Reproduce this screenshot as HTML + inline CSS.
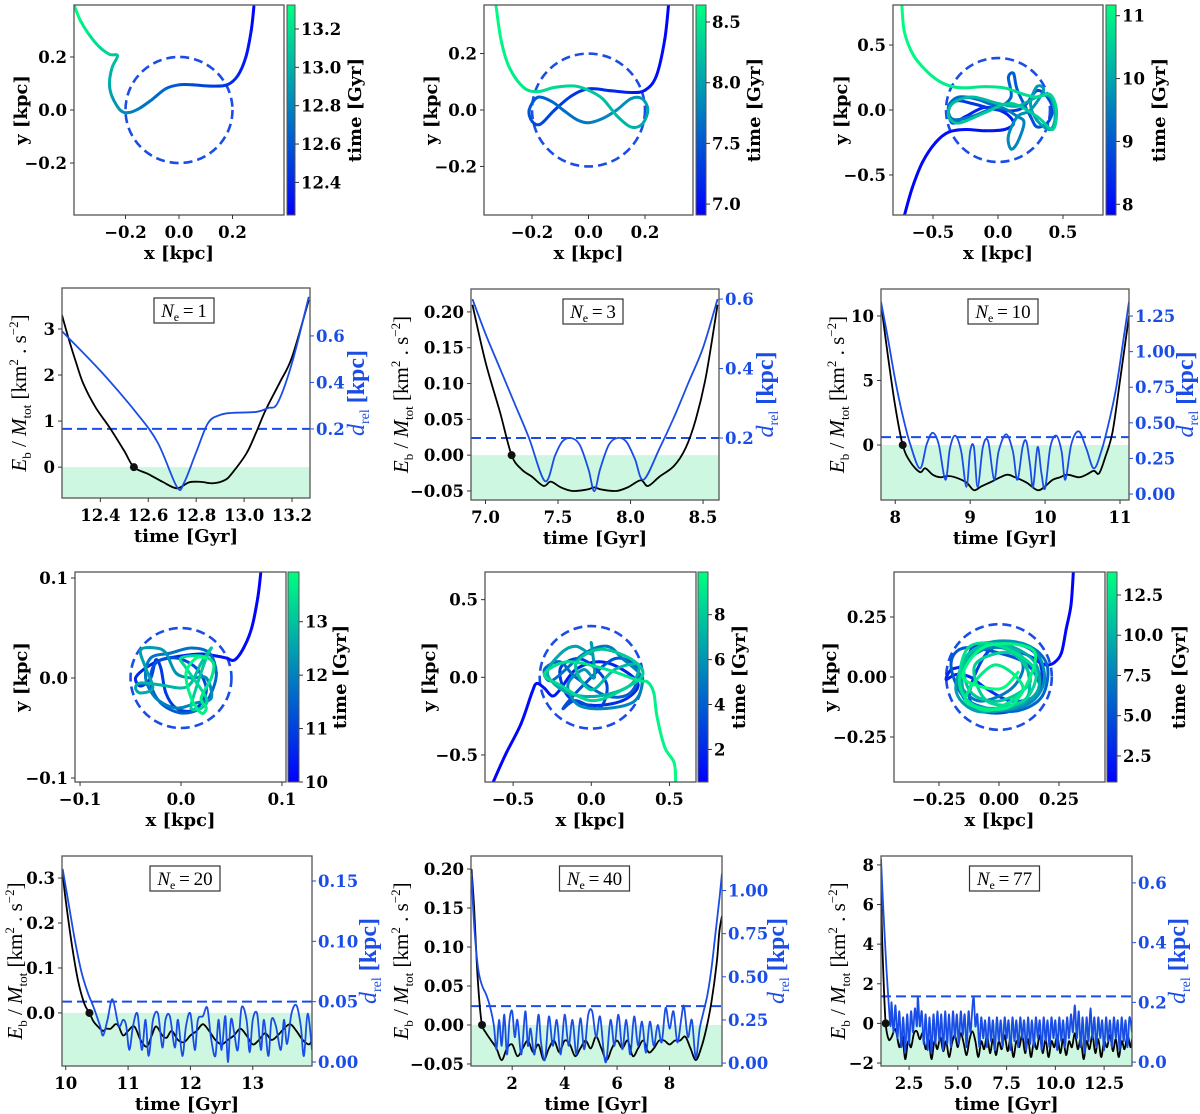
<!DOCTYPE html>
<html><head><meta charset="utf-8">
<style>
html,body{margin:0;padding:0;background:#fff;}
svg{display:block;font-family:"Liberation Serif",serif;}
.tk{font-weight:bold;font-size:16.5px;font-family:"DejaVu Serif","Liberation Serif",serif;}
.ttl{font-weight:bold;font-size:18px;font-family:"DejaVu Serif","Liberation Serif",serif;}
</style></head>
<body>
<svg id="fig" width="1200" height="1114" viewBox="0 0 1200 1114">
<defs>
<linearGradient id="winter" x1="0" y1="1" x2="0" y2="0">
<stop offset="0" stop-color="rgb(0,0,255)"/><stop offset="1" stop-color="rgb(0,255,128)"/>
</linearGradient>
</defs>
</svg>
<script>
// ---------------- DATA ----------------
const orbit1 = [[0.28,0.39],[0.27,0.3],[0.25,0.2],[0.22,0.13],[0.18,0.095],[0.12,0.09],[0.05,0.095],[0.0,0.095],[-0.05,0.08],[-0.1,0.04],[-0.15,0.005],[-0.19,-0.01],[-0.22,0.0],[-0.25,0.05],[-0.26,0.1],[-0.25,0.16],[-0.23,0.205],[-0.26,0.21],[-0.3,0.24],[-0.34,0.29],[-0.37,0.34],[-0.39,0.39]];
const orbit2 = [[0.285,0.39],[0.27,0.25],[0.24,0.12],[0.2,0.07],[0.15,0.062],[0.08,0.068],[0.0,0.075],[-0.06,0.05],[-0.12,0.0],[-0.17,-0.05],[-0.2,-0.04],[-0.21,0.0],[-0.18,0.045],[-0.13,0.03],[-0.09,0.0],[-0.04,-0.035],[0.0,-0.045],[0.05,-0.03],[0.1,0.0],[0.15,0.04],[0.19,0.04],[0.21,0.0],[0.19,-0.05],[0.15,-0.06],[0.1,-0.02],[0.05,0.04],[0.0,0.07],[-0.05,0.085],[-0.12,0.08],[-0.18,0.065],[-0.23,0.08],[-0.28,0.15],[-0.31,0.25],[-0.33,0.39]];
const orbit3 = [[-0.72,-0.81],[-0.66,-0.6],[-0.58,-0.4],[-0.48,-0.25],[-0.38,-0.17],[-0.25,-0.15],[-0.1,-0.16],[0.05,-0.15],[0.12,-0.1],[0.05,-0.02],[-0.1,0.02],[-0.25,-0.05],[-0.35,-0.1],[-0.38,0.0],[-0.32,0.07],[-0.2,0.05],[0.0,0.0],[0.15,0.0],[0.22,0.05],[0.3,0.15],[0.38,0.1],[0.42,0.0],[0.38,-0.1],[0.3,-0.13],[0.25,-0.05],[0.15,0.15],[0.12,0.28],[0.08,0.25],[0.1,0.1],[0.0,0.03],[-0.15,0.08],[-0.3,0.1],[-0.38,0.03],[-0.35,-0.07],[-0.2,-0.05],[0.0,0.02],[0.15,-0.05],[0.2,-0.1],[0.15,-0.25],[0.1,-0.3],[0.08,-0.2],[0.15,-0.05],[0.25,0.0],[0.35,0.15],[0.3,0.18],[0.25,0.05],[0.3,-0.08],[0.4,-0.15],[0.44,-0.05],[0.4,0.1],[0.3,0.1],[0.15,0.03],[0.0,0.05],[-0.2,0.1],[-0.35,0.05],[-0.38,-0.05],[-0.3,-0.1],[-0.1,-0.02],[0.1,0.05],[0.3,-0.05],[0.42,-0.15],[0.45,0.0],[0.4,0.12],[0.3,0.1],[0.2,0.12],[0.05,0.17],[-0.1,0.18],[-0.25,0.17],[-0.35,0.18],[-0.45,0.22],[-0.55,0.3],[-0.65,0.42],[-0.72,0.6],[-0.74,0.81]];
const orbit4 = [[0.079,0.105],[0.076,0.08],[0.07,0.05],[0.062,0.03],[0.053,0.018],[0.045,0.02],[0.035,0.022],[0.02,0.024],[0.0,0.022],[-0.02,0.018],[-0.035,0.01],[-0.045,0.0],[-0.04,-0.008],[-0.03,0.0],[-0.025,0.018],[-0.02,0.01],[-0.015,-0.015],[-0.005,-0.03],[0.01,-0.033],[0.02,-0.025],[0.025,-0.01],[0.015,0.01],[-0.005,0.02],[-0.025,0.015],[-0.03,-0.005],[-0.02,-0.025],[0.0,-0.035],[0.02,-0.03],[0.03,-0.015],[0.035,0.005],[0.028,0.025],[0.01,0.03],[-0.01,0.025],[-0.03,0.02],[-0.035,0.0],[-0.025,-0.02],[-0.005,-0.03],[0.015,-0.025],[0.03,-0.02],[0.025,0.0],[0.01,0.0],[-0.005,0.005],[-0.015,0.025],[-0.025,0.03],[-0.04,0.028],[-0.035,0.01],[-0.028,-0.01],[-0.04,-0.015],[-0.045,-0.01],[-0.04,-0.005],[-0.02,-0.007],[0.0,-0.01],[0.01,-0.005],[0.02,0.015],[0.03,0.03],[0.025,0.02],[0.015,-0.01],[0.01,-0.03],[0.02,-0.03],[0.025,-0.02],[0.005,0.01],[0.0,0.02],[0.02,0.022],[0.032,0.015],[0.03,0.0],[0.02,-0.02],[0.025,-0.03],[0.02,-0.035],[0.01,-0.02],[0.005,0.005],[0.015,0.02],[0.025,0.02]];
const orbit5 = [[-0.63,-0.68],[-0.55,-0.5],[-0.45,-0.3],[-0.38,-0.1],[-0.35,-0.04],[-0.3,-0.07],[-0.25,-0.12],[-0.2,-0.08],[-0.1,0.05],[0.05,0.1],[0.2,0.05],[0.3,-0.05],[0.2,-0.15],[0.0,-0.18],[-0.15,-0.12],[-0.2,0.05],[-0.1,0.12],[0.0,0.08],[0.1,-0.05],[0.05,-0.2],[-0.1,-0.15],[-0.18,-0.2],[-0.05,-0.05],[0.15,0.12],[0.3,0.05],[0.25,-0.1],[0.1,-0.12],[-0.1,0.0],[-0.2,0.1],[-0.3,0.05],[-0.25,-0.02],[-0.05,0.15],[0.1,0.2],[0.2,0.12],[0.32,0.0],[0.28,-0.15],[0.1,-0.2],[-0.08,-0.18],[-0.15,-0.05],[-0.05,0.05],[0.02,0.0],[0.0,0.22],[0.0,0.15],[-0.1,0.2],[-0.2,0.15],[-0.28,0.02],[-0.15,-0.1],[0.05,-0.12],[0.25,-0.05],[0.3,0.08],[0.15,0.05],[0.0,-0.08],[-0.1,0.08],[0.05,0.18],[0.25,0.12],[0.33,0.02],[0.2,-0.08],[0.0,-0.15],[-0.2,-0.05],[-0.3,0.02],[-0.15,0.1],[0.1,0.05],[0.3,-0.02],[0.36,-0.03],[0.4,-0.1],[0.42,-0.25],[0.47,-0.45],[0.53,-0.55],[0.54,-0.68]];
const orbit6 = [[0.31,0.44],[0.3,0.3],[0.28,0.2],[0.26,0.1],[0.23,0.06],[0.2,0.05],[0.17,0.06],[0.14,0.08],[0.1,0.1],[0.0,0.14],[-0.1,0.13],[-0.15,0.05],[-0.2,0.03],[-0.22,-0.01],[-0.18,0.01],[-0.12,0.0],[-0.05,-0.05],[0.05,-0.1],[0.15,-0.08],[0.18,0.0],[0.15,0.1],[0.05,0.14],[-0.05,0.1],[-0.12,-0.05],[-0.1,-0.13],[0.0,-0.15],[0.1,-0.12],[0.17,-0.05],[0.12,0.05],[0.0,0.1],[-0.15,0.12],[-0.2,0.05],[-0.15,-0.08],[-0.05,-0.13],[0.08,-0.14],[0.18,-0.08],[0.2,0.05],[0.12,0.13],[-0.02,0.13],[-0.13,0.07],[-0.16,-0.03],[-0.08,-0.1],[0.05,-0.05],[0.1,0.05],[0.02,0.12],[-0.1,0.1],[-0.17,0.0],[-0.12,-0.12],[0.02,-0.14],[0.14,-0.1],[0.19,0.0],[0.14,0.12],[0.0,0.15],[-0.12,0.1],[-0.18,-0.05],[-0.1,-0.14],[0.05,-0.13],[0.16,-0.06],[0.15,0.06],[0.04,0.13],[-0.08,0.12],[-0.15,0.03],[-0.13,-0.1],[0.0,-0.13],[0.12,-0.08],[0.1,0.08],[-0.02,0.14],[-0.14,0.08],[-0.12,-0.06],[0.0,-0.1],[0.13,-0.02],[0.05,0.1],[-0.1,0.05],[-0.05,-0.1],[0.1,-0.1],[0.15,0.03],[0.0,0.13],[-0.13,0.12],[-0.16,-0.05],[-0.05,-0.14],[0.1,-0.05],[-0.02,0.05],[-0.14,-0.1],[0.05,-0.12],[0.15,0.1],[-0.05,0.13],[-0.15,0.0],[0.0,-0.05],[0.08,0.02]];

const energy1 = [[12.24,3.3],[12.27,2.75],[12.3,2.25],[12.33,1.8],[12.38,1.3],[12.44,0.85],[12.5,0.35],[12.54,0.0],[12.6,-0.15],[12.66,-0.32],[12.72,-0.46],[12.77,-0.33],[12.82,-0.32],[12.87,-0.35],[12.92,-0.28],[12.95,-0.13],[13.01,0.3],[13.05,0.75],[13.09,1.24],[13.15,1.85],[13.2,2.39],[13.27,3.63]];
const dist1 = [[12.24,0.62],[12.4,0.45],[12.55,0.27],[12.64,0.14],[12.72,-0.05],[12.75,-0.03],[12.8,0.1],[12.85,0.226],[12.9,0.26],[12.95,0.269],[13.05,0.273],[13.1,0.29],[13.14,0.312],[13.2,0.484],[13.27,0.768]];
const energy2 = [[6.91,0.21],[7.0,0.13],[7.1,0.06],[7.18,0.0],[7.25,-0.02],[7.32,-0.03],[7.4,-0.043],[7.45,-0.037],[7.52,-0.045],[7.6,-0.05],[7.7,-0.048],[7.75,-0.045],[7.8,-0.048],[7.9,-0.05],[7.98,-0.045],[8.07,-0.035],[8.12,-0.043],[8.2,-0.03],[8.3,-0.015],[8.38,0.01],[8.45,0.05],[8.52,0.11],[8.6,0.21]];
const dist2 = [[6.91,0.6],[7.0,0.5],[7.1,0.4],[7.2,0.3],[7.3,0.2],[7.41,0.076],[7.48,0.15],[7.53,0.19],[7.59,0.2],[7.65,0.18],[7.71,0.11],[7.75,0.047],[7.79,0.11],[7.85,0.18],[7.91,0.2],[7.97,0.19],[8.03,0.14],[8.09,0.08],[8.2,0.17],[8.3,0.26],[8.4,0.36],[8.5,0.46],[8.6,0.6]];
const energy3 = [[7.81,11],[7.9,7],[8.0,3],[8.1,0],[8.2,-1.3],[8.33,-2.1],[8.4,-1.8],[8.5,-2.3],[8.6,-2.5],[8.7,-2.4],[8.8,-2.5],[8.95,-2.9],[9.05,-3.5],[9.15,-3.2],[9.3,-2.8],[9.4,-2.5],[9.5,-2.3],[9.6,-2.5],[9.75,-2.9],[9.9,-3.5],[10.0,-3.2],[10.1,-2.7],[10.2,-2.5],[10.3,-2.3],[10.45,-2.5],[10.55,-2.3],[10.65,-2.0],[10.72,-2.2],[10.8,-1.0],[10.9,1],[11.0,5],[11.12,10]];
const dist3 = [[7.81,1.35],[7.9,1.1],[8.0,0.8],[8.1,0.55],[8.2,0.35],[8.33,0.18],[8.42,0.35],[8.5,0.43],[8.58,0.35],[8.67,0.1],[8.73,0.32],[8.8,0.41],[8.88,0.3],[8.95,0.05],[9.0,0.3],[9.05,0.33],[9.1,0.05],[9.17,0.33],[9.24,0.37],[9.32,0.1],[9.38,0.3],[9.48,0.42],[9.57,0.3],[9.63,0.1],[9.7,0.33],[9.75,0.37],[9.8,0.2],[9.84,0.05],[9.9,0.33],[9.95,0.15],[10.0,0.04],[10.07,0.33],[10.15,0.41],[10.22,0.3],[10.27,0.1],[10.35,0.35],[10.45,0.44],[10.55,0.32],[10.65,0.18],[10.75,0.3],[10.85,0.5],[10.95,0.75],[11.05,1.1],[11.12,1.35]];
const energy4 = [[9.95,0.31],[10.0,0.25],[10.1,0.15],[10.2,0.07],[10.3,0.02],[10.38,0.0],[10.45,-0.02],[10.55,-0.035],[10.6,-0.04],[10.65,-0.035],[10.72,-0.035],[10.8,-0.025],[10.85,-0.03],[10.92,-0.05],[11.0,-0.04],[11.1,-0.03],[11.2,-0.06],[11.3,-0.075],[11.38,-0.05],[11.45,-0.03],[11.55,-0.05],[11.62,-0.055],[11.7,-0.04],[11.8,-0.06],[11.9,-0.065],[12.0,-0.05],[12.1,-0.04],[12.2,-0.025],[12.3,-0.04],[12.4,-0.06],[12.5,-0.07],[12.6,-0.06],[12.7,-0.05],[12.8,-0.035],[12.9,-0.05],[13.0,-0.07],[13.1,-0.06],[13.2,-0.045],[13.3,-0.06],[13.4,-0.05],[13.5,-0.035],[13.6,-0.025],[13.7,-0.04],[13.8,-0.06],[13.9,-0.07],[13.95,-0.06]];
const dist4 = [[9.95,0.16],[10.05,0.13],[10.15,0.1],[10.25,0.075],[10.35,0.058],[10.45,0.045],[10.55,0.03],[10.6,0.022],[10.67,0.035],[10.75,0.052],[10.85,0.03],[10.92,0.035],[10.97,0.03],[11.02,0.01],[11.08,0.03],[11.15,0.04],[11.22,0.01],[11.28,0.035],[11.33,0.005],[11.4,0.035],[11.48,0.04],[11.55,0.012],[11.6,0.035],[11.67,0.038],[11.75,0.012],[11.8,0.035],[11.87,0.005],[11.93,0.03],[12.0,0.04],[12.07,0.01],[12.12,0.035],[12.2,0.038],[12.27,0.045],[12.33,0.02],[12.4,0.005],[12.45,0.035],[12.5,0.01],[12.56,0.038],[12.6,0.0],[12.65,0.035],[12.7,0.025],[12.76,0.01],[12.82,0.045],[12.9,0.035],[12.95,0.008],[13.0,0.035],[13.07,0.04],[13.13,0.01],[13.18,0.035],[13.25,0.005],[13.3,0.035],[13.37,0.03],[13.45,0.01],[13.5,0.035],[13.55,0.015],[13.62,0.04],[13.7,0.047],[13.77,0.03],[13.82,0.005],[13.88,0.04],[13.95,0.01]];
const energy5 = [[0.45,0.2],[0.55,0.15],[0.65,0.08],[0.75,0.03],[0.85,0.0],[1.0,-0.01],[1.2,-0.02],[1.4,-0.03],[1.6,-0.045],[1.8,-0.03],[2.0,-0.025],[2.2,-0.04],[2.4,-0.03],[2.6,-0.02],[2.8,-0.035],[3.0,-0.025],[3.2,-0.045],[3.4,-0.03],[3.6,-0.02],[3.8,-0.035],[4.0,-0.02],[4.2,-0.025],[4.4,-0.04],[4.6,-0.03],[4.8,-0.02],[5.0,-0.03],[5.2,-0.015],[5.4,-0.03],[5.6,-0.045],[5.8,-0.03],[6.0,-0.02],[6.2,-0.03],[6.4,-0.02],[6.6,-0.04],[6.8,-0.03],[7.0,-0.02],[7.2,-0.035],[7.4,-0.03],[7.6,-0.02],[7.8,-0.02],[8.0,-0.025],[8.2,-0.02],[8.4,-0.02],[8.6,-0.015],[8.8,-0.03],[9.0,-0.045],[9.2,-0.03],[9.4,-0.005],[9.6,0.03],[9.8,0.08],[9.9,0.12],[10.0,0.14]];
const dist5 = [[0.45,1.1],[0.55,0.8],[0.7,0.55],[0.85,0.45],[1.0,0.4],[1.15,0.33],[1.3,0.22],[1.4,0.08],[1.5,0.25],[1.6,0.1],[1.7,0.28],[1.8,0.05],[1.9,0.25],[2.0,0.3],[2.1,0.15],[2.2,0.25],[2.35,0.05],[2.5,0.3],[2.6,0.1],[2.7,0.2],[2.85,0.05],[3.0,0.28],[3.1,0.12],[3.25,0.02],[3.4,0.27],[3.55,0.1],[3.7,0.25],[3.85,0.05],[4.0,0.28],[4.15,0.1],[4.3,0.25],[4.45,0.05],[4.6,0.26],[4.75,0.08],[4.9,0.28],[5.05,0.3],[5.2,0.15],[5.35,0.27],[5.5,0.05],[5.6,0.02],[5.75,0.25],[5.9,0.1],[6.05,0.28],[6.2,0.08],[6.35,0.25],[6.5,0.05],[6.65,0.27],[6.8,0.1],[6.95,0.24],[7.1,0.06],[7.25,0.24],[7.4,0.1],[7.55,0.22],[7.7,0.12],[7.85,0.32],[8.0,0.2],[8.15,0.3],[8.3,0.12],[8.45,0.26],[8.55,0.33],[8.7,0.15],[8.85,0.25],[9.0,0.03],[9.15,0.2],[9.3,0.3],[9.45,0.4],[9.6,0.55],[9.75,0.75],[9.9,0.95],[10.0,1.1]];
const energy6 = [[1.06,8],[1.1,5],[1.2,2],[1.3,0],[1.45,-0.8],[1.6,-0.7],[1.8,-0.3],[2.0,-1.2],[2.15,-0.6],[2.3,-1.8],[2.45,-0.9],[2.6,-1.2],[2.75,-0.5],[2.9,-0.4],[3.05,-0.8],[3.2,-0.5],[3.35,-1.3],[3.5,-0.8],[3.65,-1.8],[3.8,-0.9],[3.95,-1.3],[4.1,-0.7],[4.25,-1.4],[4.4,-0.9],[4.55,-1.7],[4.7,-1.0],[4.85,-0.6],[5.0,-1.2],[5.15,-0.5],[5.3,-1.0],[5.45,-1.6],[5.6,-0.8],[5.75,-0.4],[5.9,-0.9],[6.05,-1.7],[6.2,-0.9],[6.35,-1.3],[6.5,-0.6],[6.65,-1.5],[6.8,-0.8],[6.95,-1.6],[7.1,-0.9],[7.25,-1.3],[7.4,-0.6],[7.55,-1.4],[7.7,-0.8],[7.85,-1.7],[8.0,-0.9],[8.15,-1.2],[8.3,-0.6],[8.45,-1.5],[8.6,-0.8],[8.75,-1.7],[8.9,-0.9],[9.05,-1.3],[9.2,-0.6],[9.35,-1.5],[9.5,-0.8],[9.65,-1.7],[9.8,-0.9],[9.95,-1.2],[10.1,-0.6],[10.25,-1.5],[10.4,-0.8],[10.55,-1.6],[10.7,-0.9],[10.85,-1.2],[11.0,-0.5],[11.15,-1.3],[11.3,-0.8],[11.45,-1.8],[11.6,-0.9],[11.75,-1.3],[11.9,-0.6],[12.05,-1.5],[12.2,-0.8],[12.35,-1.7],[12.5,-0.9],[12.65,-1.2],[12.8,-0.6],[12.95,-1.4],[13.1,-0.8],[13.25,-1.7],[13.4,-0.9],[13.55,-1.3],[13.7,-0.6],[13.85,-1.2],[13.93,-0.8]];
const dist6 = [[1.06,0.68],[1.15,0.55],[1.25,0.42],[1.35,0.3],[1.45,0.2],[1.55,0.12],[1.6,0.2],[1.7,0.1],[1.8,0.19],[1.9,0.08],[2.0,0.17],[2.1,0.05],[2.2,0.15],[2.3,0.03],[2.4,0.16],[2.5,0.06],[2.6,0.17],[2.7,0.1],[2.8,0.18],[2.9,0.12],[2.95,0.22],[3.05,0.12],[3.15,0.17],[3.25,0.06],[3.35,0.16],[3.45,0.04],[3.55,0.15],[3.65,0.03],[3.75,0.16],[3.85,0.06],[3.95,0.17],[4.05,0.07],[4.15,0.16],[4.25,0.04],[4.35,0.17],[4.45,0.06],[4.55,0.16],[4.65,0.05],[4.75,0.17],[4.85,0.08],[4.95,0.16],[5.05,0.06],[5.15,0.17],[5.25,0.09],[5.35,0.16],[5.45,0.05],[5.55,0.17],[5.65,0.1],[5.8,0.22],[5.9,0.12],[6.0,0.16],[6.1,0.05],[6.2,0.15],[6.3,0.08],[6.4,0.14],[6.5,0.05],[6.6,0.15],[6.7,0.07],[6.8,0.14],[6.9,0.04],[7.0,0.15],[7.1,0.07],[7.2,0.14],[7.3,0.05],[7.4,0.15],[7.5,0.08],[7.6,0.14],[7.7,0.04],[7.8,0.15],[7.9,0.07],[8.0,0.14],[8.1,0.05],[8.2,0.15],[8.3,0.08],[8.4,0.14],[8.5,0.04],[8.6,0.15],[8.7,0.06],[8.8,0.14],[8.9,0.05],[9.0,0.15],[9.1,0.08],[9.2,0.14],[9.3,0.04],[9.4,0.15],[9.5,0.07],[9.6,0.14],[9.7,0.05],[9.8,0.15],[9.9,0.08],[10.0,0.14],[10.1,0.04],[10.2,0.15],[10.3,0.07],[10.4,0.14],[10.5,0.05],[10.6,0.15],[10.7,0.08],[10.8,0.16],[10.9,0.1],[11.0,0.19],[11.1,0.08],[11.2,0.17],[11.3,0.05],[11.4,0.15],[11.5,0.03],[11.6,0.15],[11.7,0.07],[11.8,0.18],[11.9,0.08],[12.0,0.15],[12.1,0.05],[12.2,0.15],[12.3,0.08],[12.4,0.14],[12.5,0.04],[12.6,0.15],[12.7,0.07],[12.8,0.14],[12.9,0.05],[13.0,0.15],[13.1,0.08],[13.2,0.14],[13.3,0.04],[13.4,0.15],[13.5,0.07],[13.6,0.14],[13.7,0.05],[13.8,0.15],[13.93,0.1]];

const markerTimes = [12.54, 7.18, 8.1, 10.38, 0.85, 1.3];
const circleRadii = [0.2, 0.2, 0.4, 0.05, 0.33, 0.22];
const neLabels = ['1','3','10','20','40','77'];

const orbitTicks = [[-0.2,0,0.2],[-0.2,0,0.2],[-0.5,0,0.5],[-0.1,0,0.1],[-0.5,0,0.5],[-0.25,0,0.25]];
const cbarTicks = [[12.4,12.6,12.8,13.0,13.2],[7.0,7.5,8.0,8.5],[8,9,10,11],[10,11,12,13],[2,4,6,8],[2.5,5.0,7.5,10.0,12.5]];
const timeTicks = [[12.4,12.6,12.8,13.0,13.2],[7.0,7.5,8.0,8.5],[8,9,10,11],[10,11,12,13],[2,4,6,8],[2.5,5.0,7.5,10.0,12.5]];
const energyTicks = [[0,1,2,3],[-0.05,0,0.05,0.1,0.15,0.2],[0,5,10],[0,0.1,0.2,0.3],[-0.05,0,0.05,0.1,0.15,0.2],[-2,0,2,4,6,8]];
const distTicks = [[0.2,0.4,0.6],[0.2,0.4,0.6],[0,0.25,0.5,0.75,1.0,1.25],[0,0.05,0.1,0.15],[0,0.25,0.5,0.75,1.0],[0,0.2,0.4,0.6]];

// ---------------- LAYOUT ----------------
const orbitCfg = [
 {bx:[74,284],by:[5,215],xd:[-0.3925,0.3925],yd:[-0.396,0.396],cb:[287,295],cd:[12.23,13.325],dec:1,cdec:1,yl:15,cl:353},
 {bx:[484,693],by:[5,215],xd:[-0.37,0.37],yd:[-0.372,0.372],cb:[696,706],cd:[6.91,8.64],dec:1,cdec:1,yl:425,cl:752},
 {bx:[893,1103],by:[5,215],xd:[-0.808,0.808],yd:[-0.808,0.808],cb:[1106,1116],cd:[7.83,11.17],dec:1,cdec:0,yl:835,cl:1157},
 {bx:[75,286],by:[572,782],xd:[-0.105,0.104],yd:[-0.104,0.106],cb:[288,299],cd:[10,13.93],dec:1,cdec:0,yl:15,cl:338},
 {bx:[485,696],by:[572,782],xd:[-0.68,0.67],yd:[-0.674,0.678],cb:[698,708],cd:[0.55,9.9],dec:1,cdec:0,yl:423,cl:737},
 {bx:[894,1105],by:[572,782],xd:[-0.4375,0.4417],yd:[-0.4375,0.4375],cb:[1107,1117],cd:[0.88,13.93],dec:2,cdec:1,yl:824,cl:1177}
];
const energyCfg = [
 {bx:[62,310],by:[288,498],td:[12.24,13.275],ed:[-0.67,3.89],dd:[-0.097,0.806],tdec:1,edec:0,ddec:1,yl:18,rl:356},
 {bx:[471,719],by:[289,500],td:[6.90,8.61],ed:[-0.0626,0.232],dd:[0.0216,0.629],tdec:1,edec:2,ddec:1,yl:400,rl:765},
 {bx:[881,1129],by:[289,500],td:[7.81,11.12],ed:[-4.26,12.09],dd:[-0.042,1.44],tdec:0,edec:0,ddec:2,yl:836,rl:1185},
 {bx:[62,312],by:[856,1066],td:[9.94,13.95],ed:[-0.118,0.349],dd:[-0.0033,0.1707],tdec:0,edec:1,ddec:2,yl:14,rl:368},
 {bx:[471,722],by:[856,1066],td:[0.43,10.0],ed:[-0.0526,0.2167],dd:[-0.017,1.2],tdec:0,edec:2,ddec:2,yl:400,rl:776},
 {bx:[881,1132],by:[856,1066],td:[1.06,13.93],ed:[-2.15,8.45],dd:[-0.013,0.69],tdec:1,edec:0,ddec:1,yl:837,rl:1177}
];
const orbits=[orbit1,orbit2,orbit3,orbit4,orbit5,orbit6];
const energies=[energy1,energy2,energy3,energy4,energy5,energy6];
const dists=[dist1,dist2,dist3,dist4,dist5,dist6];

// ---------------- RENDER ----------------
const svg=document.getElementById('fig');
const NS=svg.namespaceURI;
const BLUE='#1a4de6';
function el(tag,parent){const e=document.createElementNS(NS,tag);parent.appendChild(e);return e;}
function set(e,a){for(const k in a)e.setAttribute(k,a[k]);}
function lin(d0,d1,r0,r1){return v=>r0+(v-d0)/(d1-d0)*(r1-r0);}
function fmt(v,d){const s=Math.abs(v).toFixed(d);return (v<0?'\u2212':'')+s;}
function winter(f){return 'rgb(0,'+Math.round(255*f)+','+Math.round(255-127*f)+')';}
function crPath(pts){
  if(pts.length<2)return '';
  let d='M'+pts[0][0].toFixed(2)+','+pts[0][1].toFixed(2);
  for(let i=0;i<pts.length-1;i++){
    const p0=pts[Math.max(0,i-1)],p1=pts[i],p2=pts[i+1],p3=pts[Math.min(pts.length-1,i+2)];
    const c1=[p1[0]+(p2[0]-p0[0])/6,p1[1]+(p2[1]-p0[1])/6];
    const c2=[p2[0]-(p3[0]-p1[0])/6,p2[1]-(p3[1]-p1[1])/6];
    d+='C'+c1[0].toFixed(2)+','+c1[1].toFixed(2)+' '+c2[0].toFixed(2)+','+c2[1].toFixed(2)+' '+p2[0].toFixed(2)+','+p2[1].toFixed(2);
  }
  return d;
}
function text(parent,x,y,str,cls,anchor,fill){
  const t=el('text',parent);set(t,{x:x,y:y,'text-anchor':anchor||'middle',fill:fill||'#000'});
  if(cls)t.setAttribute('class',cls);
  t.textContent=str;return t;
}
function clip(id,bx,by){
  const defs=svg.querySelector('defs');const cp=el('clipPath',defs);cp.setAttribute('id',id);
  const r=el('rect',cp);set(r,{x:bx[0],y:by[0],width:bx[1]-bx[0],height:by[1]-by[0]});
}

orbitCfg.forEach((c,k)=>{
  const g=el('g',svg);
  
  
  const X=lin(c.xd[0],c.xd[1],c.bx[0],c.bx[1]);
  const Y=lin(c.yd[0],c.yd[1],c.by[1],c.by[0]);
  clip('oc'+k,c.bx,c.by);
  const plot=el('g',g);plot.setAttribute('clip-path','url(#oc'+k+')');
  
  
  const r=circleRadii[k];
  const circ=el('ellipse',plot);
  set(circ,{cx:X(0),cy:Y(0),rx:X(r)-X(0),ry:Y(0)-Y(r),fill:'none',stroke:BLUE,'stroke-width':2.6,'stroke-dasharray':'9,5'});
  
  
  const o=orbits[k];const px=o.map(p=>[X(p[0]),Y(p[1])]);
  const n=px.length;
  for(let i=0;i<n-1;i++){
    const p0=px[Math.max(0,i-1)],p1=px[i],p2=px[i+1],p3=px[Math.min(n-1,i+2)];
    const c1=[p1[0]+(p2[0]-p0[0])/6,p1[1]+(p2[1]-p0[1])/6];
    const c2=[p2[0]-(p3[0]-p1[0])/6,p2[1]-(p3[1]-p1[1])/6];
    const seg=el('path',plot);
    set(seg,{d:'M'+p1[0]+','+p1[1]+'C'+c1[0]+','+c1[1]+' '+c2[0]+','+c2[1]+' '+p2[0]+','+p2[1],fill:'none',stroke:winter((i+0.5)/(n-1)),'stroke-width':3,'stroke-linecap':'round'});
    
    
  }
  const fr=el('rect',g);
  set(fr,{x:c.bx[0],y:c.by[0],width:c.bx[1]-c.bx[0],height:c.by[1]-c.by[0],fill:'none',stroke:'#555','stroke-width':1.3});
  
  
  orbitTicks[k].forEach(v=>{
    const tx=el('line',g);set(tx,{x1:X(v),x2:X(v),y1:c.by[1],y2:c.by[1]+4,stroke:'#333'});
    
    
    const lx=text(g,X(v),c.by[1]+23,fmt(v,c.dec),'tk');
    
    
    const ty=el('line',g);set(ty,{x1:c.bx[0]-4,x2:c.bx[0],y1:Y(v),y2:Y(v),stroke:'#333'});
    
    
    const ly=text(g,c.bx[0]-7,Y(v)+6,fmt(v,c.dec),'tk','end');
    
    
  });
  const xt=text(g,(c.bx[0]+c.bx[1])/2,c.by[1]+44,'x [kpc]','ttl');
  
  
  const yt=text(g,0,0,'y [kpc]','ttl');set(yt,{transform:'translate('+(c.yl+12)+','+((c.by[0]+c.by[1])/2)+') rotate(-90)'});
  
  
  const C=lin(c.cd[0],c.cd[1],c.by[1],c.by[0]);
  const cb=el('rect',g);set(cb,{x:c.cb[0],y:c.by[0],width:c.cb[1]-c.cb[0],height:c.by[1]-c.by[0],fill:'url(#winter)',stroke:'#555','stroke-width':1});
  
  
  cbarTicks[k].forEach(v=>{
    const t=el('line',g);set(t,{x1:c.cb[1],x2:c.cb[1]+4,y1:C(v),y2:C(v),stroke:'#333'});
    
    
    const l=text(g,c.cb[1]+6,C(v)+6,fmt(v,c.cdec),'tk','start');
    
    
  });
  const ct=text(g,0,0,'time [Gyr]','ttl');set(ct,{transform:'translate('+(c.cl+8)+','+((c.by[0]+c.by[1])/2)+') rotate(-90)'});
  
  
});

energyCfg.forEach((c,k)=>{
  const g=el('g',svg);
  
  
  const T=lin(c.td[0],c.td[1],c.bx[0],c.bx[1]);
  const E=lin(c.ed[0],c.ed[1],c.by[1],c.by[0]);
  const D=lin(c.dd[0],c.dd[1],c.by[1],c.by[0]);
  clip('ec'+k,c.bx,c.by);
  const plot=el('g',g);plot.setAttribute('clip-path','url(#ec'+k+')');
  
  
  const bound=el('rect',plot);
  set(bound,{x:c.bx[0],y:E(0),width:c.bx[1]-c.bx[0],height:c.by[1]-E(0),fill:'#cdf7e1'});
  
  
  const dl=el('line',plot);
  set(dl,{x1:c.bx[0],x2:c.bx[1],y1:D(circleRadii[k]),y2:D(circleRadii[k]),stroke:BLUE,'stroke-width':2,'stroke-dasharray':'10,5'});
  
  
  const bl=el('path',plot);
  set(bl,{d:crPath(energies[k].map(p=>[T(p[0]),E(p[1])])),fill:'none',stroke:'#000','stroke-width':1.8});
  
  
  const dp=el('path',plot);
  set(dp,{d:crPath(dists[k].map(p=>[T(p[0]),D(p[1])])),fill:'none',stroke:BLUE,'stroke-width':1.8});
  
  
  const dot=el('circle',plot);
  set(dot,{cx:T(markerTimes[k]),cy:E(0),r:4,fill:'#111'});
  
  
  const fr=el('rect',g);
  set(fr,{x:c.bx[0],y:c.by[0],width:c.bx[1]-c.bx[0],height:c.by[1]-c.by[0],fill:'none',stroke:'#555','stroke-width':1.3});
  
  
  timeTicks[k].forEach(v=>{
    const t=el('line',g);set(t,{x1:T(v),x2:T(v),y1:c.by[1],y2:c.by[1]+4,stroke:'#333'});
    
    
    const l=text(g,T(v),c.by[1]+23,fmt(v,c.tdec),'tk');
    
    
  });
  energyTicks[k].forEach(v=>{
    const t=el('line',g);set(t,{x1:c.bx[0]-4,x2:c.bx[0],y1:E(v),y2:E(v),stroke:'#333'});
    
    
    const l=text(g,c.bx[0]-7,E(v)+6,fmt(v,c.edec),'tk','end');
    
    
  });
  distTicks[k].forEach(v=>{
    const t=el('line',g);set(t,{x1:c.bx[1],x2:c.bx[1]+4,y1:D(v),y2:D(v),stroke:BLUE});
    
    
    const l=text(g,c.bx[1]+6,D(v)+6,fmt(v,c.ddec),'tk','start',BLUE);
    
    
  });
  const xt=text(g,(c.bx[0]+c.bx[1])/2,c.by[1]+44,'time [Gyr]','ttl');
  
  
  const yt=el('text',g);
  set(yt,{'text-anchor':'middle','font-size':'21',transform:'translate('+(c.yl+8)+','+((c.by[0]+c.by[1])/2)+') rotate(-90)'});
  yt.innerHTML='<tspan font-style="italic">E</tspan><tspan font-size="13" dy="5">b</tspan><tspan dy="-5"> / </tspan><tspan font-style="italic">M</tspan><tspan font-size="13" dy="5">tot</tspan><tspan dy="-5"> [km</tspan><tspan font-size="13" dy="-8">2</tspan><tspan dy="8"> . s</tspan><tspan font-size="13" dy="-8">\u22122</tspan><tspan dy="8">]</tspan>';
  
  
  const rt=el('text',g);
  set(rt,{'text-anchor':'middle','font-size':'24',fill:BLUE,transform:'translate('+(c.rl+8)+','+((c.by[0]+c.by[1])/2)+') rotate(-90)'});
  rt.innerHTML='<tspan font-style="italic">d</tspan><tspan font-size="14" dy="5">rel</tspan><tspan dy="-5" font-weight="bold"> [kpc]</tspan>';
  
  
  const w=neLabels[k].length>1?70:60;const cx=(c.bx[0]+c.bx[1])/2-2;
  const lb=el('rect',g);set(lb,{x:cx-w/2,y:c.by[0]+10,width:w,height:25,fill:'#fff',stroke:'#333','stroke-width':1.2});
  
  
  const lt=el('text',g);set(lt,{x:cx,y:c.by[0]+29,'text-anchor':'middle','font-size':'19'});
  lt.innerHTML='<tspan font-style="italic">N</tspan><tspan font-size="12" dy="4">e</tspan><tspan dy="-4">\u2009=\u2009'+neLabels[k]+'</tspan>';
  
  
});
</script>
</body></html>
